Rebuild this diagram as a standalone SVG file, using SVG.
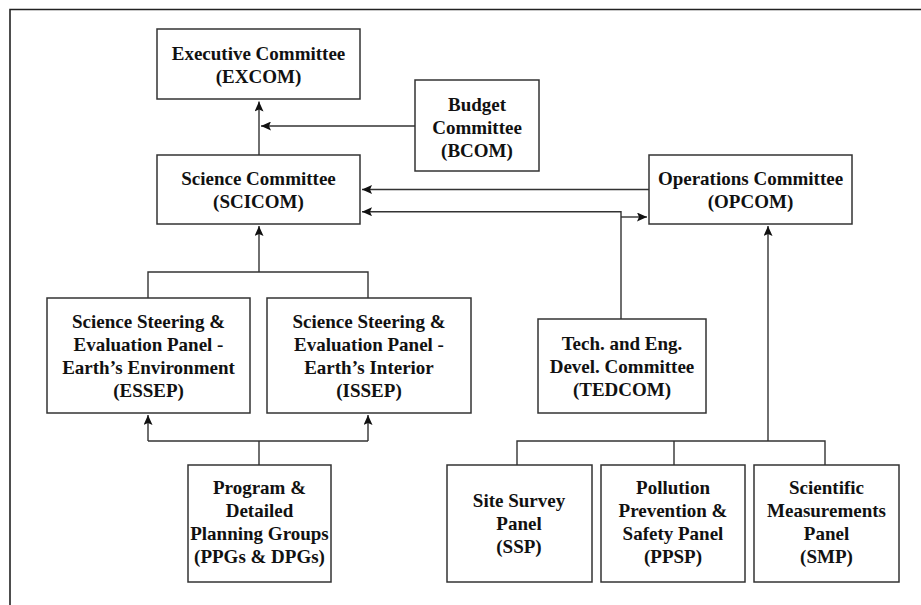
<svg xmlns="http://www.w3.org/2000/svg" width="921" height="605" viewBox="0 0 921 605">
<style>
.box{fill:#fff;stroke:#333;stroke-width:1.5}
.t{font-family:"Liberation Serif","Times New Roman",serif;font-weight:bold;font-size:19px;fill:#111;text-anchor:middle}
.c{fill:none;stroke:#333;stroke-width:1.4}
.a{marker-end:url(#arr)}
.frame{fill:none;stroke:#222;stroke-width:1.6}
</style>
<defs>
<marker id="arr" viewBox="0 0 10 9" refX="10" refY="4.5" markerWidth="10" markerHeight="9" markerUnits="userSpaceOnUse" orient="auto">
<path d="M0,0 L10,4.5 L0,9 L2,4.5 z" fill="#111"/>
</marker>
</defs>
<rect width="921" height="605" fill="#fff"/>
<path class="frame" d="M10,605 V9.5 H921"/>
<g id="connectors">
<path class="c a" d="M259,155 V101.5"/>
<path class="c a" d="M415,126 H261"/>
<path class="c a" d="M649,189.5 H362"/>
<path class="c a" d="M621,319 V211.7 H362"/>
<path class="c a" d="M621,217 H647"/>
<path class="c a" d="M259,272 V226"/>
<path class="c" d="M148,298 V272 H368 V298"/>
<path class="c" d="M259,465 V441"/>
<path class="c a" d="M148,441 V415"/>
<path class="c a" d="M368,441 H148 M368,441 V415"/>
<path class="c a" d="M768,441 V226"/>
<path class="c" d="M517,465 V441 H825 V465 M674,441 V465"/>
</g>
<g id="excom">
<rect class="box" x="157" y="29" width="203" height="70"/>
<text class="t" x="258.5" y="59.5">Executive Committee</text>
<text class="t" x="258.5" y="82.5">(EXCOM)</text>
</g>
<g id="bcom">
<rect class="box" x="415" y="80" width="124" height="91"/>
<text class="t" x="477" y="110.5">Budget</text>
<text class="t" x="477" y="133.5">Committee</text>
<text class="t" x="477" y="156.5">(BCOM)</text>
</g>
<g id="scicom">
<rect class="box" x="157" y="155" width="203" height="69"/>
<text class="t" x="258.5" y="185">Science Committee</text>
<text class="t" x="258.5" y="208">(SCICOM)</text>
</g>
<g id="opcom">
<rect class="box" x="649" y="155" width="203" height="69"/>
<text class="t" x="750.5" y="185">Operations Committee</text>
<text class="t" x="750.5" y="208">(OPCOM)</text>
</g>
<g id="essep">
<rect class="box" x="47" y="298" width="203" height="115"/>
<text class="t" x="148.5" y="327.5">Science Steering &amp;</text>
<text class="t" x="148.5" y="350.5">Evaluation Panel -</text>
<text class="t" x="148.5" y="373.5">Earth’s Environment</text>
<text class="t" x="148.5" y="396.5">(ESSEP)</text>
</g>
<g id="issep">
<rect class="box" x="267" y="298" width="204" height="115"/>
<text class="t" x="369" y="327.5">Science Steering &amp;</text>
<text class="t" x="369" y="350.5">Evaluation Panel -</text>
<text class="t" x="369" y="373.5">Earth’s Interior</text>
<text class="t" x="369" y="396.5">(ISSEP)</text>
</g>
<g id="tedcom">
<rect class="box" x="538" y="319" width="168" height="94"/>
<text class="t" x="622" y="349.5">Tech. and Eng.</text>
<text class="t" x="622" y="372.5">Devel. Committee</text>
<text class="t" x="622" y="395.5">(TEDCOM)</text>
</g>
<g id="ppg">
<rect class="box" x="188" y="465" width="143" height="117"/>
<text class="t" x="259.5" y="494">Program &amp;</text>
<text class="t" x="259.5" y="517">Detailed</text>
<text class="t" x="259.5" y="540">Planning Groups</text>
<text class="t" x="259.5" y="563">(PPGs &amp; DPGs)</text>
</g>
<g id="ssp">
<rect class="box" x="447" y="465" width="145" height="117"/>
<text class="t" x="519" y="507">Site Survey</text>
<text class="t" x="519" y="530">Panel</text>
<text class="t" x="519" y="553">(SSP)</text>
</g>
<g id="ppsp">
<rect class="box" x="601" y="465" width="144" height="117"/>
<text class="t" x="673" y="494">Pollution</text>
<text class="t" x="673" y="517">Prevention &amp;</text>
<text class="t" x="673" y="540">Safety Panel</text>
<text class="t" x="673" y="563">(PPSP)</text>
</g>
<g id="smp">
<rect class="box" x="754" y="465" width="145" height="117"/>
<text class="t" x="826.5" y="494">Scientific</text>
<text class="t" x="826.5" y="517">Measurements</text>
<text class="t" x="826.5" y="540">Panel</text>
<text class="t" x="826.5" y="563">(SMP)</text>
</g>
</svg>
